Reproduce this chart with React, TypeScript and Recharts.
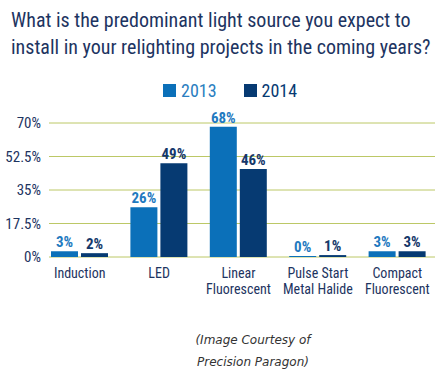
import React from "react";
import { Bar, BarChart, CartesianGrid, LabelList, XAxis, YAxis } from "recharts";

const categoryLines = [
  ["Induction"],
  ["LED"],
  ["Linear", "Fluorescent"],
  ["Pulse Start", "Metal Halide"],
  ["Compact", "Fluorescent"],
];
const values2013 = [3, 26, 68, 0, 3];
const values2014 = [2, 49, 46, 1, 3];
const yTicks = [0, 17.5, 35, 52.5, 70];
const seriesNames = ["2013", "2014"];

const FONT = "'Liberation Sans Narrow', 'Roboto Condensed', Roboto, sans-serif";
const NAVY = "#1d3461";
const COLORS = ["#0b70b9", "#063a72"];
const GRID = "#bcc866";

const data = categoryLines.map((lines, i) => ({
  name: lines.join(" "),
  v2013: values2013[i],
  v2014: values2014[i],
}));

function YTick(props: any) {
  const { x, y, payload } = props;
  return (
    <text x={x + 3} y={y + 5} textAnchor="end" fontSize={15} fill={NAVY} fontFamily={FONT}>
      {payload.value}%
    </text>
  );
}

function XTick(props: any) {
  const { x, y, index } = props;
  const lines = categoryLines[index] || [];
  return (
    <g>
      {lines.map((l, i) => (
        <text key={i} x={x} y={y + 13 + i * 16} textAnchor="middle" fontSize={14} fill={NAVY} fontFamily={FONT}>
          {l}
        </text>
      ))}
    </g>
  );
}

function GridLine(props: any) {
  const { x1, x2, y1, y2 } = props;
  return <line x1={x1 + 9} x2={x2} y1={y1} y2={y2} stroke={GRID} strokeWidth={1} />;
}

export default function App() {
  return (
    <div
      style={{
        position: "absolute",
        left: 0,
        top: 0,
        width: 435,
        height: 374,
        overflow: "hidden",
        background: "#fff",
        fontFamily: FONT,
      }}
    >
      <div
        style={{
          position: "absolute",
          left: 11,
          top: 7,
          fontSize: 20,
          lineHeight: "27px",
          color: NAVY,
          whiteSpace: "nowrap",
        }}
      >
        What is the predominant light source you expect to
        <br />
        install in your relighting projects in the coming years?
      </div>

      <div style={{ position: "absolute", left: 163, top: 80, display: "flex", alignItems: "center" }}>
        {seriesNames.map((s, i) => (
          <div key={s} style={{ display: "flex", alignItems: "center", marginRight: 27 }}>
            <span style={{ display: "inline-block", width: 13, height: 13, background: COLORS[i] }} />
            <span style={{ marginLeft: 5, fontSize: 18, color: i === 0 ? "#2a7ec0" : COLORS[1] }}>{s}</span>
          </div>
        ))}
      </div>

      <div style={{ position: "absolute", left: 0, top: 0 }}>
        <BarChart
          width={437}
          height={320}
          data={data}
          margin={{ top: 123, right: 0, bottom: 0, left: 0 }}
          barGap={3}
          barSize={27}
        >
          <CartesianGrid vertical={false} horizontal={GridLine} />
          <XAxis dataKey="name" height={63} axisLine={false} tickLine={false} tick={XTick} interval={0} />
          <YAxis
            domain={[0, 70]}
            ticks={yTicks}
            width={40}
            axisLine={false}
            tickLine={false}
            tickSize={0}
            tick={YTick}
          />
          <Bar dataKey="v2013" fill={COLORS[0]} isAnimationActive={false} minPointSize={1}>
            <LabelList
              dataKey="v2013"
              position="top"
              offset={4}
              formatter={(v: any) => `${v}%`}
              style={{ fontSize: 15, fontWeight: 700, fill: "#1f7ac0", fontFamily: FONT }}
            />
          </Bar>
          <Bar dataKey="v2014" fill={COLORS[1]} isAnimationActive={false} minPointSize={1}>
            <LabelList
              dataKey="v2014"
              position="top"
              offset={4}
              formatter={(v: any) => `${v}%`}
              style={{ fontSize: 15, fontWeight: 700, fill: "#15386a", fontFamily: FONT }}
            />
          </Bar>
        </BarChart>
      </div>

      <div
        style={{
          position: "absolute",
          left: 0,
          width: 506,
          top: 329,
          textAlign: "center",
          fontFamily: "'DejaVu Sans', sans-serif",
          fontStyle: "italic",
          fontSize: 12,
          lineHeight: "22px",
          color: "#333",
        }}
      >
        (Image Courtesy of
        <br />
        Precision Paragon)
      </div>
    </div>
  );
}
